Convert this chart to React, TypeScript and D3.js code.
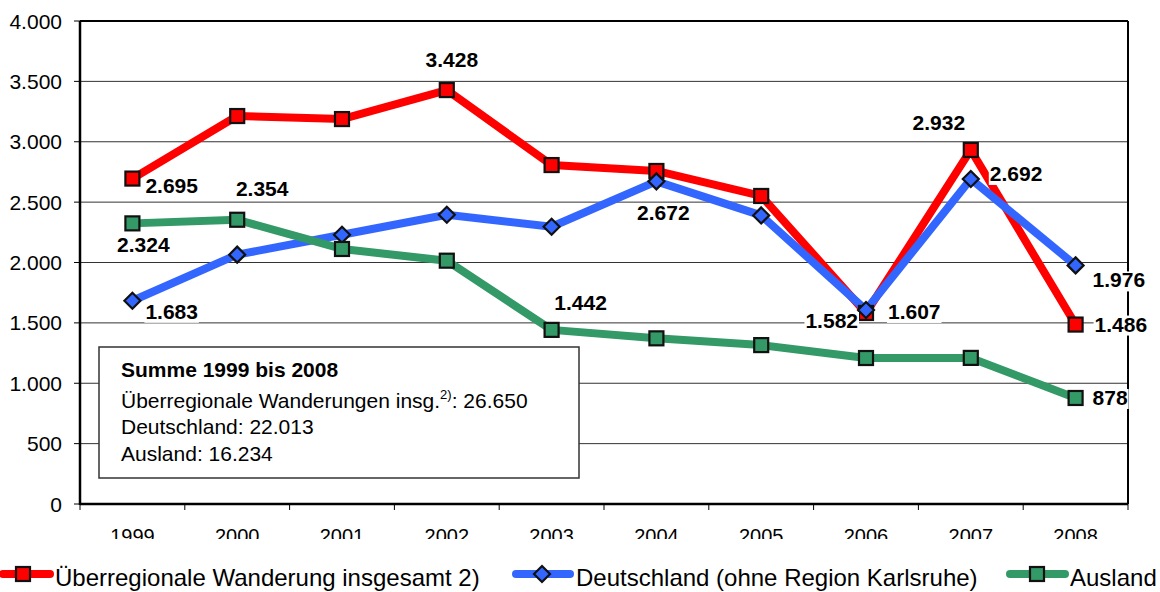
import React from "react";
import * as d3 from "d3";

const years = ["1999", "2000", "2001", "2002", "2003", "2004", "2005", "2006", "2007", "2008"];
const totalValues = [2695, 3213, 3188, 3428, 2807, 2758, 2551, 1582, 2932, 1486];
const germanyValues = [1683, 2065, 2230, 2395, 2296, 2672, 2390, 1607, 2692, 1976];
const abroadValues = [2324, 2354, 2112, 2015, 1442, 1372, 1316, 1209, 1210, 878];
const yTicks = [0, 500, 1000, 1500, 2000, 2500, 3000, 3500, 4000];
const seriesNames = [
  "Überregionale Wanderung insgesamt 2)",
  "Deutschland (ohne Region Karlsruhe)",
  "Ausland",
];
const summaryLines = [
  "Summe 1999 bis 2008",
  "Überregionale Wanderungen insg.",
  "Deutschland: 22.013",
  "Ausland: 16.234",
];

// labelled points: [seriesIndex, pointIndex, dx, baseline dy, anchor]
const labelSpecs: [number, number, number, number, string][] = [
  [0, 0, 13, 14, "start"],
  [0, 3, 5, -23, "middle"],
  [0, 7, -8, 15, "end"],
  [0, 8, -32, -20, "middle"],
  [0, 9, 19, 7, "start"],
  [1, 0, 13, 18, "start"],
  [1, 5, 7, 39, "middle"],
  [1, 7, 22, 9, "start"],
  [1, 8, 19, 2, "start"],
  [1, 9, 17, 22, "start"],
  [2, 0, 11, 29, "middle"],
  [2, 1, 25, -24, "middle"],
  [2, 4, 29, -20, "middle"],
  [2, 9, 17, 7, "start"],
];

const fmt = (v: number) => d3.format(",")(v).replace(/,/g, ".");

export default function App() {
  const W = 1160, H = 592;
  const x0 = 80, x1 = 1128, y0 = 504, y1 = 21;
  const x = d3.scaleBand().domain(years).range([x0, x1]);
  const y = d3.scaleLinear().domain([0, 4000]).range([y0, y1]);
  const cx = (i: number) => (x(years[i]) as number) + x.bandwidth() / 2;

  const series = [
    { values: totalValues, color: "#FF0000", marker: "square" },
    { values: germanyValues, color: "#3366FF", marker: "diamond" },
    { values: abroadValues, color: "#339966", marker: "square" },
  ];

  const line = d3.line<number>().x((_, i) => cx(i)).y((v) => y(v));

  const marker = (type: string, color: string, px: number, py: number, key: string) =>
    type === "square" ? (
      <rect key={key} x={px - 7} y={py - 7} width={14} height={14} fill={color} stroke="#111" strokeWidth={2.2} />
    ) : (
      <path key={key} d={`M${px},${py - 8}L${px + 8},${py}L${px},${py + 8}L${px - 8},${py}Z`} fill={color} stroke="#111" strokeWidth={2.2} />
    );

  const font = "'Liberation Sans', Arial, sans-serif";

  const legendItems = [
    { lx0: 3, lx1: 50, mx: 23, tx: 55 },
    { lx0: 516, lx1: 570, mx: 542, tx: 576 },
    { lx0: 1010, lx1: 1065, mx: 1037, tx: 1070 },
  ];

  const charW = (c: string) => (c === "." ? 0.278 : 0.556);

  return (
    <svg width={W} height={H} style={{ position: "absolute", left: 0, top: 0, background: "#fff" }} fontFamily={font}>
      <defs>
        <clipPath id="yearClip">
          <rect x={0} y={506} width={W} height={33} />
        </clipPath>
      </defs>
      {/* gridlines */}
      {yTicks.map((t) => (
        <g key={t}>
          {t > 0 && t < 4000 && <line x1={x0} x2={x1} y1={y(t)} y2={y(t)} stroke="#333" strokeWidth={1} />}
          <line x1={x0 - 6} x2={x0} y1={y(t)} y2={y(t)} stroke="#000" strokeWidth={1} />
          <text x={x0 - 18} y={y(t)} dy="0.36em" textAnchor="end" fontSize={21}>
            {fmt(t)}
          </text>
        </g>
      ))}
      {/* frame */}
      <line x1={x0} x2={x1} y1={y1} y2={y1} stroke="#000" strokeWidth={2} />
      <line x1={x1} x2={x1} y1={y1} y2={y0} stroke="#000" strokeWidth={2} />
      <line x1={x0} x2={x0} y1={y1} y2={y0 + 1} stroke="#000" strokeWidth={2.5} />
      <line x1={x0} x2={x1} y1={y0} y2={y0} stroke="#000" strokeWidth={2.5} />
      {/* x ticks */}
      {years.map((yr) => (
        <line key={"t" + yr} x1={x(yr) as number} x2={x(yr) as number} y1={y0} y2={y0 + 6} stroke="#000" />
      ))}
      <line x1={x1} x2={x1} y1={y0} y2={y0 + 6} stroke="#000" />
      <g clipPath="url(#yearClip)">
        {years.map((yr, i) => (
          <text key={"y" + yr} x={cx(i)} y={543} textAnchor="middle" fontSize={20}>
            {yr}
          </text>
        ))}
      </g>
      {/* summary box */}
      <rect x={99} y={347} width={480} height={131} fill="#fff" stroke="#333" strokeWidth={1.5} />
      <text x={121} y={377} fontSize={21} fontWeight="bold">{summaryLines[0]}</text>
      <text x={121} y={408} fontSize={21}>
        {summaryLines[1]}
        <tspan dy={-9} fontSize={13}>2)</tspan>
        <tspan dy={9}>: 26.650</tspan>
      </text>
      <text x={121} y={434} fontSize={21}>{summaryLines[2]}</text>
      <text x={121} y={461} fontSize={21}>{summaryLines[3]}</text>
      {/* lines */}
      {series.map((s, si) => (
        <path key={"l" + si} d={line(s.values) as string} fill="none" stroke={s.color} strokeWidth={8} strokeLinejoin="round" />
      ))}
      {series.map((s, si) => s.values.map((v, i) => marker(s.marker, s.color, cx(i), y(v), `m${si}-${i}`)))}
      {/* data labels */}
      {labelSpecs.map(([si, pi, dx, dy, anchor]) => {
        const v = series[si].values[pi];
        const lx = cx(pi) + dx;
        const ly = y(v) + dy;
        const txt = fmt(v);
        const w = txt.split("").reduce((a, c) => a + charW(c), 0) * 21;
        const bx = anchor === "middle" ? lx - w / 2 : anchor === "end" ? lx - w : lx;
        return (
          <g key={`lab${si}-${pi}`}>
            <rect x={bx - 1} y={ly - 16} width={w + 2} height={20} fill="#fff" />
            <text x={lx} y={ly} textAnchor={anchor} fontSize={21} fontWeight="bold">
              {txt}
            </text>
          </g>
        );
      })}
      {/* legend */}
      {legendItems.map((li, si) => (
        <g key={"lg" + si}>
          <line x1={li.lx0} x2={li.lx1} y1={574} y2={574} stroke={series[si].color} strokeWidth={8} strokeLinecap="round" />
          {marker(series[si].marker, series[si].color, li.mx, 574, "lm" + si)}
          <text x={li.tx} y={586} fontSize={24}>{seriesNames[si]}</text>
        </g>
      ))}
    </svg>
  );
}
